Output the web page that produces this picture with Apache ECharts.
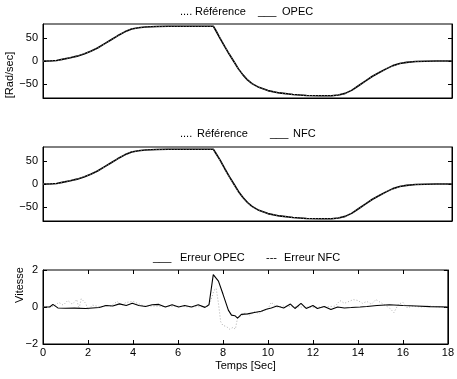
<!DOCTYPE html>
<html>
<head>
<meta charset="utf-8">
<script src="https://cdn.jsdelivr.net/npm/echarts@6/dist/echarts.min.js"></script>
<style>
html,body{margin:0;padding:0;background:#fff;}
#chart{width:457px;height:379px;}
</style>
</head>
<body>
<div id="chart"></div>
<script>
// ---- Data ----
const xTicks = [2, 4, 6, 8, 10, 12, 14, 16];
const speedTicks = [-50, 0, 50];
const errorTicks = [-2, 0, 2];

const timeRef = [0,0.3,0.6,0.9,1.2,1.5,1.8,2.1,2.4,2.7,3.0,3.3,3.6,3.9,4.2,4.5,5.0,5.5,6.0,7.0,7.5,7.6,7.8,8.0,8.2,8.4,8.6,8.8,9.0,9.2,9.5,9.9,10.4,11.0,11.6,12.2,12.7,13.0,13.3,13.6,13.9,14.2,14.5,14.8,15.1,15.4,15.7,16.0,16.4,16.8,17.3,18];
const refValues = [0,0,1,4,7,10.5,15,21,28,37,46,55,63,69,72,73.5,74.5,75,75,75,75,68,50,32,15,-1,-17,-30,-41,-49,-57,-64,-69,-72.5,-74.5,-75,-75,-73.5,-70,-63,-53,-43,-33,-25,-17,-10,-5.5,-3,-1.2,-0.4,0,0];
const opecValues = [0,0,1,4,7,10.5,15,21,28,37,46,55,63,69,72,73.5,74.5,75,75,75,75,66.5,48.5,31,14.5,-1,-17,-30,-41,-49,-57,-64,-69,-72.5,-74.5,-75,-75,-73.5,-70,-63,-53,-43,-33,-25,-17,-10,-5.5,-3,-1.2,-0.4,0,0];
const nfcValues = [0,0,1,4,7,10.5,15,21,28,37,46,55,63,69,72,73.5,74.5,75,75,75,75,67,51,33,16,0,-16,-29,-40,-48.5,-57,-64,-69,-72.5,-74.5,-75,-75,-73.5,-70,-63,-53,-43,-33,-25,-17,-10,-5.5,-3,-1.2,-0.4,0,0];

const errOpecTime = [0,0.3,0.44,0.66,1.0,1.4,1.9,2.2,2.5,2.8,3.1,3.4,3.7,3.97,4.26,4.56,4.85,5.15,5.44,5.74,6.03,6.3,6.6,6.9,7.2,7.38,7.57,7.8,8.0,8.24,8.38,8.53,8.65,8.82,9.1,9.4,9.7,9.93,10.15,10.4,10.7,11.0,11.2,11.47,11.7,12.0,12.2,12.5,12.8,13.1,13.4,13.7,14.1,14.4,14.85,15.4,16.0,16.6,17.2,18];
const errOpecValues = [0,0,0.14,-0.05,-0.07,-0.06,-0.08,-0.05,-0.03,0.08,0.05,0.17,0.08,0.2,0.08,0.03,0.12,0.14,0,0.12,0,0.08,0,0.12,-0.02,0.12,1.75,1.4,0.7,-0.17,-0.44,-0.47,-0.6,-0.4,-0.37,-0.3,-0.23,-0.12,-0.05,0.05,-0.05,0.16,-0.08,0.2,-0.08,0.08,-0.08,0.03,-0.14,0,-0.05,-0.03,0,0.03,0.08,0.12,0.08,0.05,0.02,0];

const errNfcTime = [0,0.3,0.5,0.7,0.9,1.1,1.3,1.5,1.6,1.7,1.9,2.0,2.2,2.4,2.6,2.8,3.0,3.3,3.5,3.7,4.0,4.3,4.5,5.0,5.5,6.0,6.5,7.0,7.3,7.45,7.6,7.7,7.8,7.9,8.0,8.15,8.3,8.45,8.55,8.65,8.8,9.0,9.2,9.4,9.6,9.8,10.0,10.15,10.4,10.7,11.0,11.5,12.0,12.5,13.0,13.2,13.4,13.6,13.8,14.0,14.2,14.4,14.6,14.8,15.0,15.2,15.4,15.6,15.8,16.0,16.2,16.4,16.8,17.2,17.6,18];
const errNfcValues = [0,0.02,0.05,0.25,0.1,0.35,0.15,0.4,-0.1,0.45,0.2,-0.15,0.1,0.05,0,0.1,0.05,0.3,0.1,0.25,0.3,0.15,0.05,0.05,0.02,0.05,0,0.02,0,0.3,0.9,1.0,0.2,-0.8,-1.0,-1.05,-1.2,-1.1,-1.2,-0.6,-0.5,-0.3,-0.45,-0.25,-0.35,-0.2,-0.1,0.25,0,0.05,0.02,0,-0.02,0,0.05,0.35,0.2,0.3,0.4,0.35,0.2,0.3,0.15,0.4,0.25,0.1,-0.05,-0.3,0.15,0.25,-0.05,0.05,0,0.05,0,0];

// ---- Helpers ----
const pair = (ts, vs) => ts.map((t, i) => [t, vs[i]]);
const FONT = 'Liberation Sans, Arial, Helvetica, sans-serif';
const fmt = v => String(v).replace('-', '\u2212');

const grids = [
  {left: 43, top: 24, width: 409, height: 74},
  {left: 43, top: 147, width: 409, height: 74},
  {left: 43, top: 270, width: 409, height: 74}
].map(g => Object.assign({show: true, borderColor: '#000', borderWidth: 1}, g));

function xAx(gi, pos, labels) {
  return {
    type: 'value', gridIndex: gi, position: pos, min: 0, max: 18, interval: 2,
    axisLine: {show: true, onZero: false, lineStyle: {color: '#000', width: 1}},
    splitLine: {show: false},
    axisTick: {show: false},
    axisLabel: {show: labels, color: '#000', fontFamily: FONT, fontSize: 11, margin: 3}
  };
}
function yAx(gi, pos, min, max, vals, labels) {
  return {
    type: 'value', gridIndex: gi, position: pos, min: min, max: max,
    axisLine: {show: true, onZero: false, lineStyle: {color: '#000', width: 1}},
    splitLine: {show: false},
    axisTick: {show: true, inside: true, length: 4, customValues: vals, lineStyle: {color: '#000', width: 1}},
    axisLabel: {show: labels, customValues: vals, color: '#000', fontFamily: FONT, fontSize: 11, margin: 5, formatter: fmt}
  };
}

const xAxes = [
  xAx(0, 'bottom', false),
  xAx(1, 'bottom', false),
  xAx(2, 'bottom', true)
];
xAxes[2].name = 'Temps [Sec]';
xAxes[2].nameLocation = 'middle';
xAxes[2].nameGap = 16;
xAxes[2].nameTextStyle = {color: '#000', fontFamily: FONT, fontSize: 11};

const yAxes = [
  yAx(0, 'left', -80, 80, speedTicks, true),
  yAx(0, 'right', -80, 80, speedTicks, false),
  yAx(1, 'left', -80, 80, speedTicks, true),
  yAx(1, 'right', -80, 80, speedTicks, false),
  yAx(2, 'left', -2, 2, errorTicks, true),
  yAx(2, 'right', -2, 2, errorTicks, false)
];

function line(name, xi, yi, data, color, width, type, z) {
  return {
    name: name, type: 'line', xAxisIndex: xi, yAxisIndex: yi, data: data,
    showSymbol: false, symbol: 'none', smooth: false, z: z,
    lineStyle: {color: color, width: width, type: type}
  };
}

// inward x ticks on bottom and top edges of the lower panel, placed via the axis scale
const tickSeries = {
  type: 'custom', xAxisIndex: 2, yAxisIndex: 4, silent: true, z: 5,
  data: xTicks.map(v => [v]),
  renderItem: function (params, api) {
    const b = api.coord([api.value(0), -2]);
    const t = api.coord([api.value(0), 2]);
    const x = Math.round(b[0]) + 0.5;
    return {
      type: 'group',
      children: [
        {type: 'line', shape: {x1: x, y1: b[1], x2: x, y2: b[1] - 4}, style: {stroke: '#000', lineWidth: 1}},
        {type: 'line', shape: {x1: x, y1: t[1], x2: x, y2: t[1] + 4}, style: {stroke: '#000', lineWidth: 1}}
      ]
    };
  }
};

const series = [
  line('OPEC', 0, 0, pair(timeRef, opecValues), '#000', 1.6, 'solid', 2),
  line('Référence', 0, 0, pair(timeRef, refValues), '#777', 1, [1, 2], 3),
  line('NFC', 1, 2, pair(timeRef, nfcValues), '#000', 1.6, 'solid', 2),
  line('Référence', 1, 2, pair(timeRef, refValues), '#777', 1, [1, 2], 3),
  line('Erreur NFC', 2, 4, pair(errNfcTime, errNfcValues), '#999', 0.8, [1, 2], 2),
  line('Erreur OPEC', 2, 4, pair(errOpecTime, errOpecValues), '#000', 1.1, 'solid', 3),
  tickSeries
];

function txt(x, y, s, extra) {
  return Object.assign({type: 'text', x: x, y: y,
    style: {text: s, fill: '#000', font: '11px ' + FONT, textVerticalAlign: 'middle'}}, extra || {});
}

const graphics = [
  txt(180, 12, '....'), txt(195, 12, 'Référence'), txt(258, 12, '___'), txt(282, 12, 'OPEC'),
  txt(180, 134, '....'), txt(197, 134, 'Référence'), txt(270, 134, '___'), txt(293, 134, 'NFC'),
  txt(153, 258, '___'), txt(180, 258, 'Erreur OPEC'), txt(266, 258, '---'), txt(284, 258, 'Erreur NFC'),
  {type: 'text', x: 10, y: 75, rotation: Math.PI / 2,
   style: {text: '[Rad/sec]', fill: '#000', font: '11px ' + FONT, textAlign: 'center', textVerticalAlign: 'middle'}},
  {type: 'text', x: 20, y: 285, rotation: Math.PI / 2,
   style: {text: 'Vitesse', fill: '#000', font: '11px ' + FONT, textAlign: 'center', textVerticalAlign: 'middle'}}
];

const chart = echarts.init(document.getElementById('chart'), null, {renderer: 'canvas'});
chart.setOption({
  animation: false,
  backgroundColor: '#fff',
  grid: grids,
  xAxis: xAxes,
  yAxis: yAxes,
  series: series,
  graphic: graphics
});
</script>
</body>
</html>
